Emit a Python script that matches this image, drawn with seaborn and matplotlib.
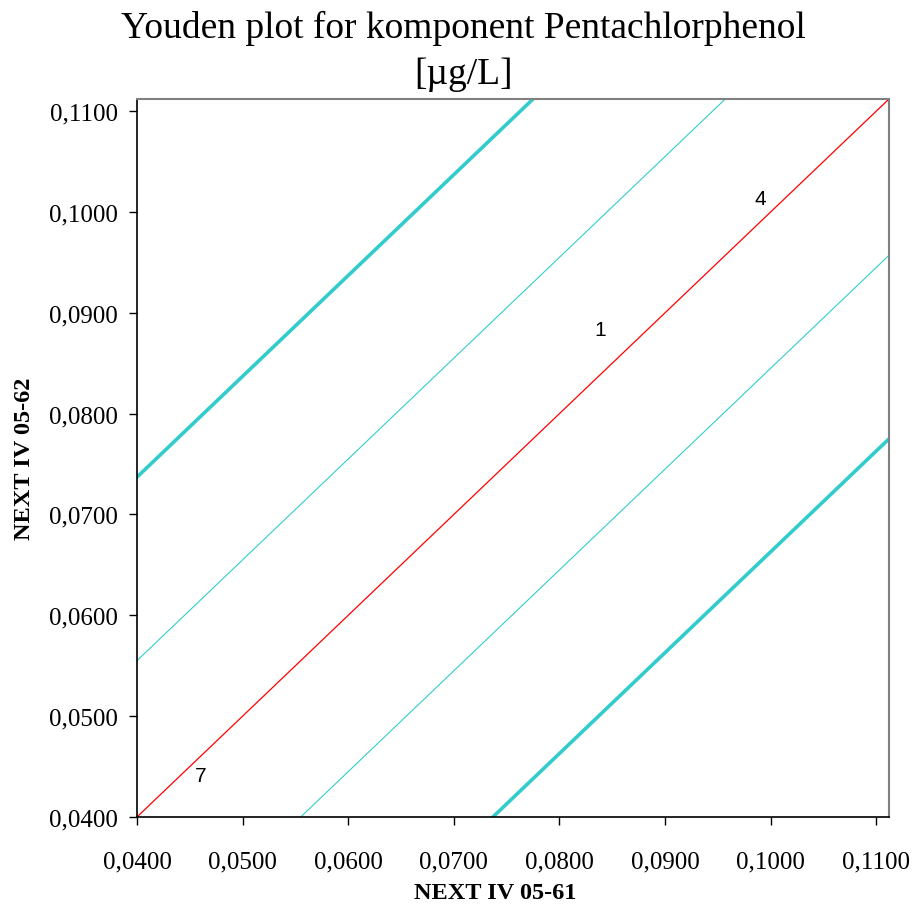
import numpy as np
import pandas as pd
import matplotlib
matplotlib.use("Agg")
import matplotlib.pyplot as plt
import seaborn as sns

# Youden plot data
title_lines = ["Youden plot for komponent Pentachlorphenol", "[µg/L]"]
x_label = "NEXT IV 05-61"
y_label = "NEXT IV 05-62"
axis_min = 0.04
axis_max = 0.1112
tick_values = [0.04, 0.05, 0.06, 0.07, 0.08, 0.09, 0.10, 0.11]
tick_labels = ["0,0400", "0,0500", "0,0600", "0,0700", "0,0800", "0,0900", "0,1000", "0,1100"]

# diagonal reference line and limit bands (offsets from y = x)
inner_offset = 0.0155
outer_offset = 0.0337

# laboratories
lab_ids = ["4", "1", "7"]
lab_x = [0.0990, 0.0839, 0.0460]
lab_y = [0.1013, 0.0883, 0.0441]

sns.set_theme(style="white")
plt.rcParams["font.family"] = ["Liberation Serif", "DejaVu Serif"]
plt.rcParams["text.color"] = "black"
plt.rcParams["axes.labelcolor"] = "black"
plt.rcParams["xtick.color"] = "black"
plt.rcParams["ytick.color"] = "black"

fig = plt.figure(figsize=(9.17, 9.12), dpi=100)
ax = fig.add_axes([0.1494, 0.1031, 0.8201, 0.7873])

xs = np.array([axis_min - 0.05, axis_max + 0.05])
turq = "#33CCCC"
lines = [
    (0.0, "#FF0000", 0.9),
    (inner_offset, turq, 0.8),
    (-inner_offset, turq, 0.8),
    (outer_offset, turq, 2.6),
    (-outer_offset, turq, 2.6),
]
for off, col, lw in lines:
    df = pd.DataFrame({"x": xs, "y": xs + off})
    sns.lineplot(data=df, x="x", y="y", ax=ax, color=col, linewidth=lw,
                 estimator=None, sort=False)

for lab, lx, ly in zip(lab_ids, lab_x, lab_y):
    ax.text(lx, ly, lab, ha="center", va="center", fontsize=15,
            family="Liberation Sans", color="black")

ax.set_xlim(axis_min, axis_max)
ax.set_ylim(axis_min, axis_max)
ax.set_xticks(tick_values)
ax.set_xticklabels(tick_labels, fontsize=18)
ax.set_yticks(tick_values)
ax.set_yticklabels(tick_labels, fontsize=18)
ax.tick_params(axis="both", direction="out", length=6, width=1, color="black",
               labelcolor="black", bottom=True, left=True, pad=8)
ax.tick_params(axis="x", pad=18)

for side in ["left", "bottom"]:
    ax.spines[side].set_color("black")
    ax.spines[side].set_linewidth(1.2)
for side in ["top", "right"]:
    ax.spines[side].set_color("#808080")
    ax.spines[side].set_linewidth(1.5)

ax.set_xlabel(x_label, fontsize=17.5, fontweight="bold", labelpad=6, color="black")
ax.xaxis.set_label_coords(0.476, -0.090)
ax.set_ylabel(y_label, fontsize=17.5, fontweight="bold", labelpad=10, color="black")

fig.text(0.505, 0.969, title_lines[0], ha="center", va="center", fontsize=27, color="black")
fig.text(0.505, 0.918, title_lines[1], ha="center", va="center", fontsize=27, color="black")

fig.savefig("out.png", dpi=100)
